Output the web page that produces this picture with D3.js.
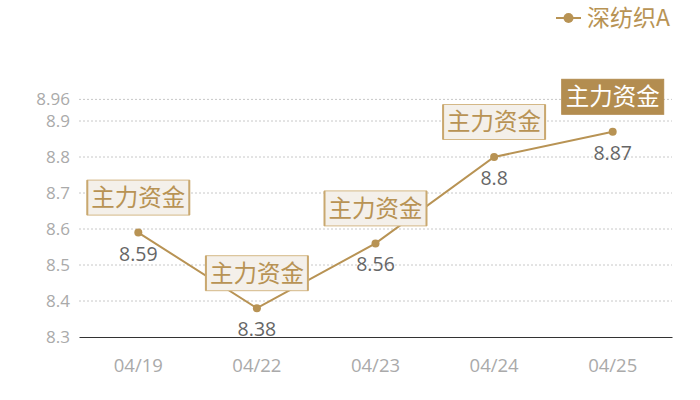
<!DOCTYPE html>
<html>
<head>
<meta charset="utf-8">
<script src="https://cdn.jsdelivr.net/npm/d3@7"></script>
<style>
body { margin: 0; background: #fff; }
text { font-family: "Open Sans", "Noto Sans CJK SC", sans-serif; }
</style>
</head>
<body>
<script>
var width = 700, height = 400;
var dates = ["04/19", "04/22", "04/23", "04/24", "04/25"];
var values = [8.59, 8.38, 8.56, 8.8, 8.87];
var yTicks = [8.3, 8.4, 8.5, 8.6, 8.7, 8.8, 8.9, 8.96];
var seriesName = "深纺织A";
var markLabel = "主力资金";

var gold = "#b89354";
var margin = {left: 79, right: 28, top: 99.4, bottom: 63};

var svg = d3.select("body").append("svg")
    .attr("width", width)
    .attr("height", height);

var x = d3.scaleBand().domain(dates).range([margin.left, width - margin.right]);
var y = d3.scaleLinear().domain([8.3, 8.96]).range([height - margin.bottom, margin.top]);

// grid
svg.append("g").selectAll("line")
    .data(yTicks.slice(1))
    .enter().append("line")
    .attr("x1", margin.left).attr("x2", width - margin.right)
    .attr("y1", function(d){ return y(d); }).attr("y2", function(d){ return y(d); })
    .style("stroke", "#c8c8c8")
    .style("stroke-dasharray", "2,2");

// y axis labels
var yAxis = svg.append("g")
    .attr("transform", "translate(" + margin.left + ",0)")
    .call(d3.axisLeft(y).tickValues(yTicks).tickSize(0).tickPadding(9).tickFormat(function(d){ return d; }));
yAxis.select(".domain").remove();
yAxis.selectAll("text").style("font-size", "17px").style("fill", "#aaaaaa");

// x axis
var xAxis = svg.append("g")
    .attr("transform", "translate(0," + y(8.3) + ")")
    .call(d3.axisBottom(x).tickSize(0).tickPadding(22));
xAxis.select(".domain").style("stroke", "#333").style("stroke-width", 1.2);
xAxis.selectAll("text").style("font-size", "18.5px").style("fill", "#aaaaaa");

var cx = function(d, i){ return x(dates[i]) + x.bandwidth() / 2; };

// line
var line = d3.line()
    .x(function(d, i){ return cx(d, i); })
    .y(function(d){ return y(d); });
svg.append("path")
    .datum(values)
    .attr("d", line)
    .style("fill", "none")
    .style("stroke", gold)
    .style("stroke-width", 2);

svg.append("g").selectAll("circle")
    .data(values)
    .enter().append("circle")
    .attr("cx", cx)
    .attr("cy", function(d){ return y(d); })
    .attr("r", 4)
    .style("fill", gold);

// value labels
svg.append("g").selectAll("text")
    .data(values)
    .enter().append("text")
    .attr("x", cx)
    .attr("y", function(d){ return y(d) + 28; })
    .attr("text-anchor", "middle")
    .style("font-size", "19.5px")
    .style("fill", "#666")
    .text(function(d){ return d; });

// markers
var last = values.length - 1;
var marks = svg.append("g").selectAll("g")
    .data(values)
    .enter().append("g")
    .attr("transform", function(d, i){ return "translate(" + cx(d, i) + "," + (y(d) - 35) + ")"; });
marks.append("rect")
    .attr("x", -51).attr("y", -17.5)
    .attr("width", 102).attr("height", 35)
    .style("fill", function(d, i){ return i == last ? "#b38d50" : "#f4f0ea"; })
    .style("stroke", function(d, i){ return i == last ? "#b38d50" : "#d4b887"; })
    .style("stroke-width", 1);
marks.filter(function(d, i){ return i != last; }).selectAll("line")
    .data([-51, 51])
    .enter().append("line")
    .attr("x1", function(d){ return d; }).attr("x2", function(d){ return d; })
    .attr("y1", -17.5).attr("y2", 17.5)
    .style("stroke", "#c9a86f")
    .style("stroke-width", 2);
marks.append("text")
    .attr("text-anchor", "middle")
    .attr("dy", "0.36em")
    .style("font-family", "'Noto Sans CJK SC', sans-serif")
    .style("font-size", "23.5px")
    .style("fill", function(d, i){ return i == last ? "#fff" : gold; })
    .text(markLabel);

// legend
var legend = svg.append("g").attr("transform", "translate(556,18)");
legend.append("line").attr("x1", 0).attr("x2", 25).style("stroke", gold).style("stroke-width", 2);
legend.append("circle").attr("cx", 12.5).attr("r", 5).style("fill", gold);
legend.append("text")
    .attr("x", 31).attr("dy", "0.36em")
    .style("font-family", "'Noto Sans CJK SC', sans-serif")
    .style("font-size", "23px")
    .style("fill", gold)
    .text(seriesName);
</script>
</body>
</html>
